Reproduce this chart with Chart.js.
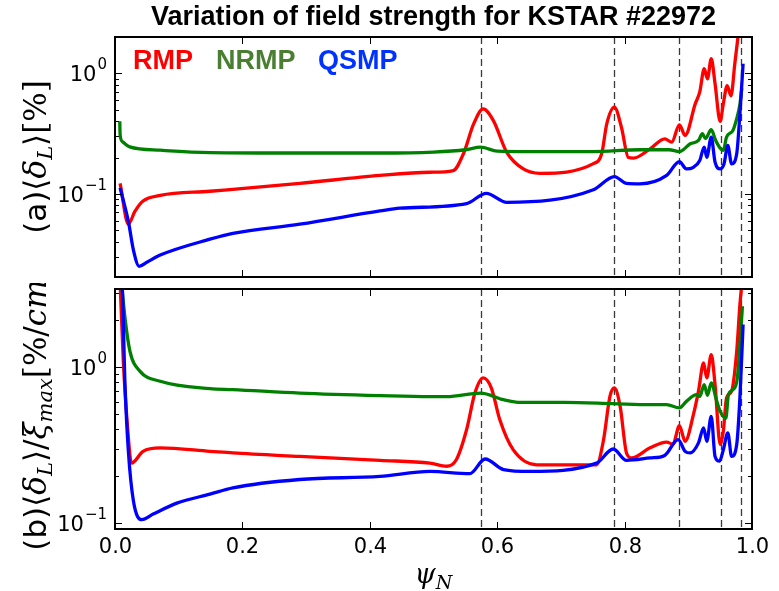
<!DOCTYPE html>
<html>
<head>
<meta charset="utf-8">
<title>Variation of field strength for KSTAR #22972</title>
<script src="https://cdn.jsdelivr.net/npm/chart.js@4.4.1/dist/chart.umd.min.js"></script>
<style>
  html, body { margin: 0; padding: 0; background: #fff; }
  #wrap { position: relative; width: 779px; height: 591px; }
  #wrap canvas { position: absolute; left: 0; }
  #chart-a { top: 0; }
  #chart-b { top: 283px; }
</style>
</head>
<body>
<div id="wrap">
  <canvas id="chart-a" width="779" height="283"></canvas>
  <canvas id="chart-b" width="779" height="308"></canvas>
</div>
<script>
(function () {
  'use strict';

  // ============ 数据 ============

  const TITLE = 'Variation of field strength for KSTAR #22972';
  const SERIES_NAMES = ['RMP', 'NRMP', 'QSMP'];
  const LINE_COLORS = ['#ff0000', '#008000', '#0000ff'];
  const LEGEND_COLORS = ['#ff0000', '#4a7f32', '#0033ff'];

  const PSI_TICKS = [0, 0.2, 0.4, 0.6, 0.8, 1.0];
  const PSI_TICK_LABELS = ['0.0', '0.2', '0.4', '0.6', '0.8', '1.0'];
  // 有理面位置（虚线）
  const RESONANT_PSI = [0.574, 0.784, 0.885, 0.951, 0.983];

  // (a) <delta_L> [%]
  const rmpA_psi = [0.008, 0.021, 0.031, 0.044, 0.071, 0.149, 0.29, 0.416, 0.495, 0.531, 0.547, 0.563, 0.578, 0.594, 0.615, 0.641, 0.667, 0.751, 0.764, 0.772, 0.784, 0.795, 0.806, 0.814, 0.840, 0.863, 0.874, 0.886, 0.895, 0.911, 0.918, 0.925, 0.930, 0.936, 0.942, 0.950, 0.955, 0.961, 0.967, 0.973, 0.978, 0.982];
  const rmpA_val = [0.122, 0.056, 0.071, 0.087, 0.097, 0.105, 0.122, 0.142, 0.151, 0.156, 0.215, 0.38, 0.507, 0.405, 0.221, 0.161, 0.148, 0.178, 0.215, 0.38, 0.523, 0.357, 0.2, 0.198, 0.236, 0.286, 0.268, 0.373, 0.305, 0.56, 0.70, 1.09, 0.9, 1.32, 0.82, 0.40, 0.56, 0.79, 0.65, 1.2, 2.0, 3.0];

  const nrmpA_psi = [0.0075, 0.008, 0.012, 0.023, 0.071, 0.149, 0.29, 0.416, 0.50, 0.55, 0.574, 0.60, 0.65, 0.75, 0.824, 0.87, 0.886, 0.903, 0.916, 0.922, 0.927, 0.936, 0.943, 0.951, 0.955, 0.960, 0.970, 0.976, 0.981, 0.984];
  const nrmpA_val = [0.40, 0.31, 0.27, 0.245, 0.23, 0.22, 0.218, 0.218, 0.222, 0.232, 0.244, 0.226, 0.224, 0.224, 0.232, 0.232, 0.224, 0.26, 0.277, 0.315, 0.287, 0.34, 0.277, 0.236, 0.229, 0.295, 0.335, 0.42, 0.55, 0.75];

  const qsmpA_psi = [0.008, 0.021, 0.029, 0.038, 0.050, 0.071, 0.149, 0.185, 0.29, 0.416, 0.447, 0.552, 0.583, 0.615, 0.751, 0.784, 0.803, 0.824, 0.866, 0.886, 0.897, 0.908, 0.918, 0.925, 0.929, 0.936, 0.942, 0.950, 0.956, 0.962, 0.968, 0.976, 0.981, 0.986];
  const qsmpA_val = [0.112, 0.059, 0.034, 0.025, 0.027, 0.031, 0.042, 0.047, 0.056, 0.072, 0.076, 0.083, 0.101, 0.085, 0.108, 0.139, 0.122, 0.121, 0.142, 0.185, 0.161, 0.166, 0.189, 0.244, 0.201, 0.295, 0.183, 0.161, 0.177, 0.252, 0.177, 0.215, 0.46, 1.2];

  // (b) <delta_L>/xi_max [%/cm]
  const rmpB_psi = [0.008, 0.013, 0.019, 0.026, 0.044, 0.071, 0.149, 0.185, 0.29, 0.416, 0.4945, 0.521, 0.536, 0.552, 0.565, 0.578, 0.591, 0.604, 0.625, 0.662, 0.756, 0.767, 0.777, 0.784, 0.793, 0.803, 0.811, 0.840, 0.866, 0.876, 0.886, 0.895, 0.908, 0.916, 0.924, 0.929, 0.936, 0.942, 0.950, 0.955, 0.960, 0.968, 0.976, 0.981, 0.984];
  const rmpB_val = [3.5, 1.1, 0.45, 0.242, 0.288, 0.303, 0.288, 0.281, 0.267, 0.252, 0.242, 0.231, 0.255, 0.397, 0.68, 0.85, 0.73, 0.46, 0.295, 0.236, 0.236, 0.342, 0.648, 0.733, 0.559, 0.281, 0.261, 0.303, 0.33, 0.32, 0.42, 0.334, 0.495, 0.70, 1.06, 0.85, 1.2, 0.77, 0.318, 0.387, 0.633, 0.70, 1.26, 2.5, 3.4];

  const nrmpB_psi = [0.009, 0.0105, 0.0157, 0.0235, 0.039, 0.071, 0.149, 0.185, 0.29, 0.416, 0.4945, 0.521, 0.574, 0.610, 0.637, 0.705, 0.782, 0.840, 0.866, 0.886, 0.897, 0.913, 0.918, 0.925, 0.930, 0.936, 0.944, 0.950, 0.959, 0.963, 0.970, 0.977, 0.981, 0.985];
  const nrmpB_val = [4.0, 3.4, 2.06, 1.26, 0.94, 0.81, 0.726, 0.716, 0.68, 0.655, 0.645, 0.645, 0.68, 0.617, 0.593, 0.593, 0.582, 0.573, 0.573, 0.546, 0.602, 0.665, 0.648, 0.77, 0.657, 0.79, 0.617, 0.52, 0.47, 0.665, 0.715, 0.85, 1.39, 2.45];

  const qsmpB_psi = [0.008, 0.011, 0.0157, 0.021, 0.029, 0.042, 0.060, 0.097, 0.149, 0.185, 0.29, 0.416, 0.4945, 0.557, 0.581, 0.610, 0.651, 0.756, 0.782, 0.803, 0.840, 0.863, 0.884, 0.895, 0.903, 0.916, 0.924, 0.929, 0.936, 0.942, 0.949, 0.955, 0.962, 0.968, 0.976, 0.981, 0.986];
  const qsmpB_val = [4.0, 3.5, 0.77, 0.288, 0.138, 0.105, 0.114, 0.134, 0.153, 0.168, 0.19, 0.199, 0.214, 0.207, 0.257, 0.22, 0.214, 0.242, 0.298, 0.252, 0.261, 0.271, 0.342, 0.288, 0.281, 0.326, 0.407, 0.334, 0.482, 0.267, 0.249, 0.295, 0.378, 0.267, 0.318, 0.633, 1.87];

  const Y_RANGE_A = [0.0204, 2.0];
  const Y_RANGE_B = [0.0915, 3.16];

  // ============ 字体 ============

  const SANS = "'DejaVu Sans'";
  const SERIF = "'DejaVu Serif'";
  const HEAD_FONT = "bold 27px 'Liberation Sans', Arial";
  const TICK_FONT = '21px ' + SANS;
  const SUP_FONT = '15px ' + SANS;

  function pts(psi, val) {
    return psi.map(function (p, i) { return { x: p, y: val[i] }; });
  }

  function datasets(rmp, nrmp, qsmp) {
    // order 越小越靠上：QSMP 在最上层
    return [rmp, nrmp, qsmp].map(function (d, i) {
      return {
        label: SERIES_NAMES[i],
        data: d,
        borderColor: LINE_COLORS[i],
        borderWidth: 3.3,
        pointRadius: 0,
        fill: false,
        cubicInterpolationMode: 'monotone',
        order: 3 - i,
      };
    });
  }

  /** 依次绘制一串不同字体的文字（可旋转），用于数学标签 */
  function drawRuns(ctx, runs, cx, cy, rotate) {
    ctx.save();
    ctx.translate(cx, cy);
    if (rotate) ctx.rotate(-Math.PI / 2);
    let total = 0;
    runs.forEach(function (r) { ctx.font = r.font; r.w = ctx.measureText(r.t).width; total += r.w; });
    let x = -total / 2;
    ctx.textAlign = 'left';
    ctx.textBaseline = 'alphabetic';
    ctx.fillStyle = '#000';
    runs.forEach(function (r) { ctx.font = r.font; ctx.fillText(r.t, x, r.dy || 0); x += r.w; });
    ctx.restore();
  }

  function drawPow10(ctx, exp, rightX, y) {
    const sup = exp === 0 ? '0' : '\u2212' + Math.abs(exp);
    ctx.font = SUP_FONT;
    const ws = ctx.measureText(sup).width;
    ctx.font = TICK_FONT;
    const wb = ctx.measureText('10').width;
    ctx.textAlign = 'left';
    ctx.textBaseline = 'alphabetic';
    ctx.fillStyle = '#000';
    ctx.fillText('10', rightX - ws - wb - 1, y + 7.5);
    ctx.font = SUP_FONT;
    ctx.fillText(sup, rightX - ws, y - 4.5);
  }

  // ============ 边框 / 刻度 / 标签插件 ============

  const framePlugin = {
    id: 'frame',
    beforeDatasetsDraw: function (chart) {
      const ctx = chart.ctx, a = chart.chartArea, xs = chart.scales.x;
      ctx.save();
      ctx.strokeStyle = '#3a3a3a';
      ctx.lineWidth = 1.3;
      ctx.setLineDash([7, 4]);
      RESONANT_PSI.forEach(function (p) {
        const px = Math.round(xs.getPixelForValue(p)) + 0.5;
        ctx.beginPath();
        ctx.moveTo(px, a.top);
        ctx.lineTo(px, a.bottom);
        ctx.stroke();
      });
      ctx.restore();
    },
    afterDraw: function (chart, args, o) {
      const ctx = chart.ctx, a = chart.chartArea;
      const xs = chart.scales.x, ys = chart.scales.y;
      ctx.save();
      ctx.strokeStyle = '#000';
      ctx.lineWidth = 1;

      // x 刻度（朝内）
      PSI_TICKS.forEach(function (t, i) {
        const px = Math.round(xs.getPixelForValue(t)) + 0.5;
        ctx.beginPath();
        ctx.moveTo(px, a.top); ctx.lineTo(px, a.top + 7);
        ctx.moveTo(px, a.bottom); ctx.lineTo(px, a.bottom - 7);
        ctx.stroke();
        if (o.xLabels) {
          ctx.font = TICK_FONT;
          ctx.fillStyle = '#000';
          ctx.textAlign = 'center';
          ctx.textBaseline = 'alphabetic';
          ctx.fillText(PSI_TICK_LABELS[i], px, a.bottom + 24);
        }
      });

      // 对数 y 刻度
      const lo = Math.floor(Math.log10(ys.min)), hi = Math.ceil(Math.log10(ys.max));
      for (let e = lo; e <= hi; e++) {
        for (let m = 1; m <= 9; m++) {
          const v = m * Math.pow(10, e);
          if (v < ys.min || v > ys.max) continue;
          const py = Math.round(ys.getPixelForValue(v)) + 0.5;
          const len = m === 1 ? 7 : 4;
          ctx.beginPath();
          ctx.moveTo(a.left, py); ctx.lineTo(a.left + len, py);
          ctx.moveTo(a.right, py); ctx.lineTo(a.right - len, py);
          ctx.stroke();
          if (m === 1) drawPow10(ctx, e, a.left - 8, py);
        }
      }

      // 边框
      ctx.lineWidth = 2;
      ctx.strokeRect(a.left, a.top, a.right - a.left, a.bottom - a.top);

      // y 轴标题
      drawRuns(ctx, o.yTitle, 46, (a.top + a.bottom) / 2, true);

      if (o.title) {
        ctx.font = HEAD_FONT;
        ctx.fillStyle = '#000';
        ctx.textAlign = 'center';
        ctx.textBaseline = 'alphabetic';
        ctx.fillText(TITLE, (a.left + a.right) / 2, 25);
      }
      if (o.legend) {
        const lx = [133, 216, 318];
        ctx.font = HEAD_FONT;
        ctx.textAlign = 'left';
        SERIES_NAMES.forEach(function (n, i) {
          ctx.fillStyle = LEGEND_COLORS[i];
          ctx.fillText(n, lx[i], 69);
        });
      }
      if (o.xTitle) {
        drawRuns(ctx, o.xTitle, (a.left + a.right) / 2, a.bottom + 54, false);
      }
      ctx.restore();
    },
  };

  function makeChart(id, ds, yRange, padTop, xAxisH, extra) {
    const canvas = document.querySelector('#' + id);
    return new Chart(canvas.getContext('2d'), {
      type: 'line',
      data: { datasets: ds },
      options: {
        responsive: false,
        animation: false,
        devicePixelRatio: 1,
        layout: { padding: { top: padTop, right: 27, left: 0, bottom: 0 } },
        scales: {
          x: {
            type: 'linear', min: 0, max: 1,
            grid: { display: false }, border: { display: false },
            ticks: { display: false },
            afterFit: function (s) { s.height = xAxisH; },
          },
          y: {
            type: 'logarithmic', min: yRange[0], max: yRange[1],
            grid: { display: false }, border: { display: false },
            ticks: { display: false },
            afterFit: function (s) { s.width = 115; },
          },
        },
        plugins: {
          legend: { display: false },
          tooltip: { enabled: false },
          frame: extra,
        },
      },
      plugins: [framePlugin],
    });
  }

  const mathR = '31px ' + SERIF;
  const mathI = 'italic 31px ' + SERIF;
  const subI = 'italic 21px ' + SERIF;
  const sans = '31px ' + SANS;

  makeChart('chart-a',
    datasets(pts(rmpA_psi, rmpA_val), pts(nrmpA_psi, nrmpA_val), pts(qsmpA_psi, qsmpA_val)),
    Y_RANGE_A, 37, 6, {
      title: true,
      legend: true,
      yTitle: [
        { t: '(a)', font: sans },
        { t: '\u27E8', font: mathR },
        { t: '\u03B4', font: mathI },
        { t: 'L', font: subI, dy: 6 },
        { t: '\u27E9', font: mathR },
        { t: '[%]', font: mathR },
      ],
    });

  makeChart('chart-b',
    datasets(pts(rmpB_psi, rmpB_val), pts(nrmpB_psi, nrmpB_val), pts(qsmpB_psi, qsmpB_val)),
    Y_RANGE_B, 6, 62, {
      xLabels: true,
      yTitle: [
        { t: '(b)', font: sans },
        { t: '\u27E8', font: mathR },
        { t: '\u03B4', font: mathI },
        { t: 'L', font: subI, dy: 6 },
        { t: '\u27E9', font: mathR },
        { t: '/', font: mathR },
        { t: '\u03BE', font: mathI },
        { t: 'max', font: subI, dy: 6 },
        { t: '[%/', font: mathR },
        { t: 'cm', font: mathI },
        { t: ']', font: mathR },
      ],
      xTitle: [
        { t: '\u03C8', font: 'italic 27px ' + SERIF },
        { t: 'N', font: 'italic 19px ' + SERIF, dy: 6 },
      ],
    });
})();
</script>
</body>
</html>
